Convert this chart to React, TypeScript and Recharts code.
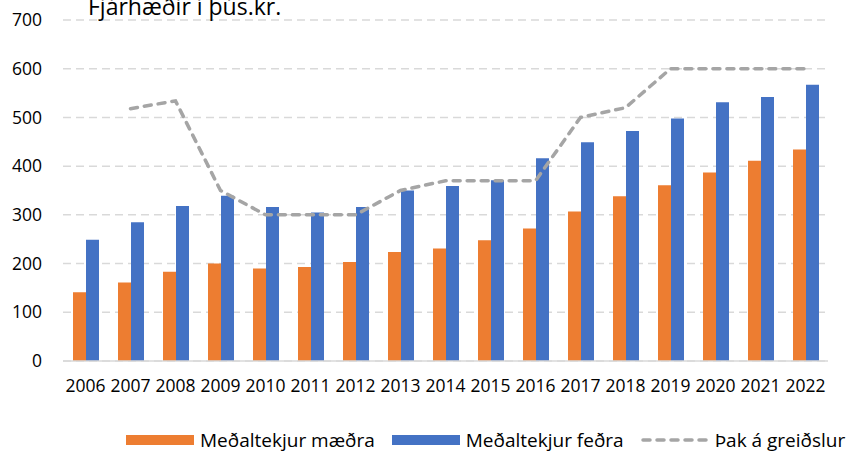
import React from "react";
import {
  ComposedChart,
  Bar,
  Line,
  XAxis,
  YAxis,
  CartesianGrid,
} from "recharts";

const years = [
  "2006", "2007", "2008", "2009", "2010", "2011", "2012", "2013", "2014",
  "2015", "2016", "2017", "2018", "2019", "2020", "2021", "2022",
];
const medaltekjurMaedra = [141, 161, 183, 200, 190, 193, 203, 224, 231, 248, 272, 307, 338, 361, 387, 411, 434];
const medaltekjurFedra = [249, 285, 318, 339, 316, 305, 316, 350, 359, 371, 416, 449, 472, 498, 531, 542, 567];
const thakAGreidslur: (number | null)[] = [null, 518, 534, 350, 300, 300, 300, 350, 370, 370, 370, 500, 520, 600, 600, 600, 600];
const yTicks = [0, 100, 200, 300, 400, 500, 600, 700];

const seriesNames = {
  m: "Meðaltekjur mæðra",
  f: "Meðaltekjur feðra",
  t: "Þak á greiðslur",
};
const titleText = "Fjárhæðir í þús.kr.";

const data = years.map((y, i) => ({
  year: y,
  m: medaltekjurMaedra[i],
  f: medaltekjurFedra[i],
  t: thakAGreidslur[i],
}));

const ORANGE = "#ED7D31";
const BLUE = "#4472C4";
const GRAY = "#A5A5A5";
const FONT = "'Open Sans', sans-serif";

const LegendContent = () => {
  const items = [
    { key: "m", type: "rect", color: ORANGE },
    { key: "f", type: "rect", color: BLUE },
    { key: "t", type: "line", color: GRAY },
  ];
  return (
    <div
      style={{
        display: "flex",
        alignItems: "center",
        paddingLeft: 126,
        fontFamily: FONT,
        fontSize: 19,
        color: "#000",
        whiteSpace: "nowrap",
        height: 30,
      }}
    >
      {items.map((it) => (
        <div key={it.key} style={{ display: "flex", alignItems: "center", marginRight: 17 }}>
          {it.type === "rect" ? (
            <div style={{ width: 68, height: 10, background: it.color, marginRight: 6 }} />
          ) : (
            <svg width={68} height={10} style={{ marginRight: 6 }}>
              <line
                x1={2}
                y1={5}
                x2={66}
                y2={5}
                stroke={it.color}
                strokeWidth={3.5}
                strokeDasharray="7 7"
                strokeLinecap="round"
              />
            </svg>
          )}
          <span>{(seriesNames as any)[it.key]}</span>
        </div>
      ))}
    </div>
  );
};

export default function App() {
  return (
    <div style={{ position: "absolute", left: 0, top: 0, width: 848, height: 452, background: "#fff" }}>
      <ComposedChart
        width={848}
        height={452}
        data={data}
        margin={{ top: 20, right: 20, bottom: 51, left: 0 }}
        barGap={0}
      >
        <CartesianGrid
          vertical={false}
          stroke="#D9D9D9"
          strokeWidth={1.5}
          strokeDasharray="8 5"
        />
        <XAxis
          dataKey="year"
          axisLine={{ stroke: "#D9D9D9", strokeWidth: 1.5 }}
          tickLine={false}
          tickMargin={13}
          height={40}
          interval={0}
          tick={{ fill: "#000", fontSize: 17.5, fontFamily: FONT }}
        />
        <YAxis
          domain={[0, 700]}
          ticks={yTicks}
          width={63}
          axisLine={false}
          tickLine={false}
          tickMargin={15}
          tick={{ fill: "#000", fontSize: 17.5, fontFamily: FONT }}
        />
        <Bar dataKey="m" name={seriesNames.m} fill={ORANGE} barSize={13} isAnimationActive={false} />
        <Bar dataKey="f" name={seriesNames.f} fill={BLUE} barSize={13} isAnimationActive={false} />
        <Line
          dataKey="t"
          name={seriesNames.t}
          type="linear"
          stroke={GRAY}
          strokeWidth={3.5}
          strokeDasharray="7 7"
          strokeLinecap="round"
          dot={false}
          activeDot={false}
          isAnimationActive={false}
        />
      </ComposedChart>
      <div style={{ position: "absolute", left: 0, top: 425, width: 848 }}>
        <LegendContent />
      </div>
      <svg
        width={848}
        height={30}
        style={{ position: "absolute", left: 0, top: 0, overflow: "visible", pointerEvents: "none" }}
      >
        <text x={88} y={15} fontFamily={FONT} fontSize={23} fill="#000">
          {titleText}
        </text>
      </svg>
    </div>
  );
}
